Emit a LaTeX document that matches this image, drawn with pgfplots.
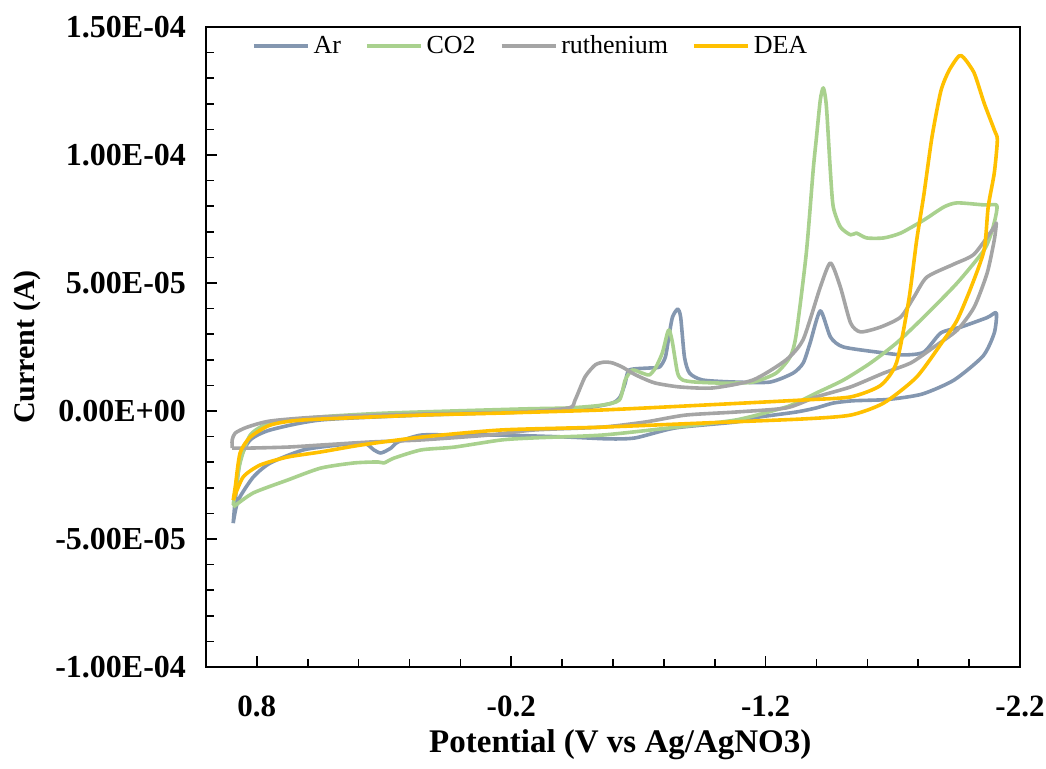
\documentclass[border=0pt]{standalone}
\usepackage{fontspec}
\setmainfont{Liberation Serif}
\usepackage{pgfplots}
\pgfplotsset{compat=1.18}

\definecolor{arblue}{HTML}{8497B0}
\definecolor{co2green}{HTML}{A9D18E}
\definecolor{rugrey}{HTML}{A5A5A5}
\definecolor{deagold}{HTML}{FFC000}

\begin{document}
\begin{tikzpicture}
\begin{axis}[
    scale only axis,
    width=407pt, height=320pt,
    xmin=-2.2, xmax=1.0, x dir=reverse,
    ymin=-1e-4, ymax=1.5e-4,
    xtick={0.8,-0.2,-1.2,-2.2},
    xticklabels={0.8,-0.2,-1.2,-2.2},
    ytick={-1e-4,-5e-5,0,5e-5,1e-4,1.5e-4},
    yticklabels={-1.00E-04,-5.00E-05,0.00E+00,5.00E-05,1.00E-04,1.50E-04},
    scaled ticks=false,
    minor x tick num=4, minor y tick num=4,
    tick align=inside, tick pos=left,
    major tick length=5.5pt, minor tick length=4pt,
    every tick/.style={black, line width=0.8pt},
    axis line style={line width=1pt},
    xticklabel style={font=\fontsize{15.5}{17}\selectfont\bfseries, yshift=-11pt},
    yticklabel style={font=\fontsize{16}{18}\selectfont\bfseries, xshift=-6.5pt},
    xlabel={Potential (V vs Ag/AgNO3)},
    ylabel={Current (A)},
    xlabel style={font=\fontsize{16.5}{18}\selectfont\bfseries, at={(axis description cs:0.509,-0.122)}, anchor=center},
    ylabel style={font=\fontsize{15}{17}\selectfont\bfseries, at={(axis description cs:-0.22,0.5)}, anchor=center},
    legend style={at={(axis description cs:0.4,0.97)}, anchor=center, draw=none, fill=none,
        legend columns=-1, font=\fontsize{13}{15}\selectfont,
        /tikz/every even column/.append style={column sep=10pt}},
    legend image code/.code={\draw[#1, line width=1.8pt] (0pt,0pt) -- (27pt,0pt);},
    every axis plot/.append style={line width=1.8pt, smooth, tension=0.4, line join=round},
]

% Ar
\addplot[arblue] table {
0.893 -4.38e-5
0.885 -3.48e-5
0.866 -1.91e-5
0.826 -1.13e-5
0.747 -0.74e-5
0.549 -0.35e-5
0.154 -0.16e-5
-0.241 -0.04e-5
-0.490 0.12e-5
-0.597 0.31e-5
-0.628 0.55e-5
-0.648 1.09e-5
-0.664 1.60e-5
-0.743 1.68e-5
-0.783 1.72e-5
-0.806 2.11e-5
-0.822 3.05e-5
-0.834 3.67e-5
-0.854 3.98e-5
-0.866 3.67e-5
-0.881 2.11e-5
-0.901 1.48e-5
-0.953 1.21e-5
-1.083 1.13e-5
-1.217 1.13e-5
-1.308 1.48e-5
-1.348 1.88e-5
-1.375 2.66e-5
-1.415 3.91e-5
-1.455 2.89e-5
-1.506 2.50e-5
-1.664 2.27e-5
-1.743 2.19e-5
-1.822 2.30e-5
-1.889 3.05e-5
-1.968 3.28e-5
-2.071 3.65e-5
-2.107 3.83e-5
-2.099 3.05e-5
-2.055 2.15e-5
-1.941 1.21e-5
-1.815 0.66e-5
-1.680 0.45e-5
-1.545 0.40e-5
-1.466 0.31e-5
-1.399 0.12e-5
-1.320 -0.04e-5
-1.150 -0.27e-5
-1.083 -0.43e-5
-0.846 -0.66e-5
-0.688 -1.05e-5
-0.585 -1.09e-5
-0.427 -1.02e-5
-0.162 -0.94e-5
0.024 -0.94e-5
0.154 -0.94e-5
0.245 -1.21e-5
0.273 -1.45e-5
0.312 -1.64e-5
0.340 -1.52e-5
0.379 -1.25e-5
0.482 -1.33e-5
0.617 -1.52e-5
0.747 -2.03e-5
0.814 -2.58e-5
0.874 -3.50e-5
0.893 -4.38e-5
};
\addlegendentry{Ar}

% CO2
\addplot[co2green] table {
0.893 -3.67e-5
0.866 -2.03e-5
0.826 -0.94e-5
0.747 -0.47e-5
0.549 -0.23e-5
0.285 -0.08e-5
-0.241 0.08e-5
-0.427 0.12e-5
-0.557 0.23e-5
-0.625 0.43e-5
-0.648 1.21e-5
-0.676 1.60e-5
-0.715 1.48e-5
-0.743 1.41e-5
-0.767 1.68e-5
-0.794 2.27e-5
-0.814 3.05e-5
-0.822 3.16e-5
-0.834 2.66e-5
-0.854 1.48e-5
-0.874 1.21e-5
-0.925 1.13e-5
-1.032 1.09e-5
-1.150 1.13e-5
-1.241 1.48e-5
-1.296 2.11e-5
-1.320 2.97e-5
-1.360 6.17e-5
-1.387 9.41e-5
-1.399 10.60e-5
-1.415 12.15e-5
-1.427 12.62e-5
-1.439 11.90e-5
-1.455 9.30e-5
-1.466 7.97e-5
-1.494 7.19e-5
-1.534 6.88e-5
-1.557 6.95e-5
-1.597 6.76e-5
-1.664 6.76e-5
-1.731 6.95e-5
-1.822 7.46e-5
-1.901 7.97e-5
-1.953 8.13e-5
-2.059 8.05e-5
-2.107 8.05e-5
-2.107 7.73e-5
-2.091 7.07e-5
-2.059 6.29e-5
-1.953 5.00e-5
-1.822 3.67e-5
-1.715 2.66e-5
-1.613 1.88e-5
-1.506 1.21e-5
-1.399 0.70e-5
-1.320 0.31e-5
-1.269 0.12e-5
-1.083 -0.35e-5
-0.822 -0.66e-5
-0.557 -0.94e-5
-0.292 -1.05e-5
-0.162 -1.13e-5
0.024 -1.41e-5
0.154 -1.52e-5
0.261 -1.84e-5
0.300 -2.03e-5
0.324 -1.99e-5
0.419 -2.03e-5
0.549 -2.23e-5
0.680 -2.70e-5
0.814 -3.20e-5
0.893 -3.75e-5
};
\addlegendentry{CO2}

% ruthenium
\addplot[rugrey] table {
0.897 -1.45e-5
0.897 -1.13e-5
0.885 -0.86e-5
0.838 -0.63e-5
0.747 -0.39e-5
0.549 -0.23e-5
0.154 -0.12e-5
-0.241 -0.04e-5
-0.427 0.12e-5
-0.451 0.43e-5
-0.490 1.33e-5
-0.530 1.80e-5
-0.565 1.91e-5
-0.597 1.88e-5
-0.636 1.72e-5
-0.676 1.48e-5
-0.715 1.29e-5
-0.767 1.09e-5
-0.862 0.94e-5
-0.992 0.90e-5
-1.150 1.21e-5
-1.281 2.00e-5
-1.348 2.80e-5
-1.415 4.84e-5
-1.455 5.78e-5
-1.494 4.84e-5
-1.534 3.44e-5
-1.573 3.09e-5
-1.652 3.28e-5
-1.731 3.67e-5
-1.783 4.45e-5
-1.834 5.23e-5
-1.941 5.74e-5
-2.020 6.13e-5
-2.099 7.19e-5
-2.107 7.34e-5
-2.099 6.68e-5
-2.071 5.39e-5
-2.020 4.06e-5
-1.953 3.16e-5
-1.862 2.50e-5
-1.771 1.88e-5
-1.664 1.48e-5
-1.534 0.94e-5
-1.399 0.55e-5
-1.281 0.12e-5
-1.083 -0.04e-5
-0.885 -0.16e-5
-0.727 -0.43e-5
-0.557 -0.63e-5
-0.292 -0.74e-5
-0.111 -0.94e-5
0.154 -1.13e-5
0.352 -1.21e-5
0.549 -1.33e-5
0.680 -1.41e-5
0.838 -1.45e-5
0.897 -1.45e-5
};
\addlegendentry{ruthenium}

% DEA
\addplot[deagold] table {
0.893 -3.48e-5
0.885 -2.97e-5
0.866 -1.64e-5
0.826 -1.02e-5
0.747 -0.55e-5
0.617 -0.35e-5
0.154 -0.16e-5
-0.162 -0.08e-5
-0.557 0.04e-5
-0.953 0.23e-5
-1.348 0.43e-5
-1.534 0.55e-5
-1.652 1.00e-5
-1.715 1.90e-5
-1.763 4.34e-5
-1.794 6.68e-5
-1.822 8.44e-5
-1.854 10.70e-5
-1.889 12.50e-5
-1.921 13.30e-5
-1.960 13.87e-5
-1.980 13.79e-5
-2.020 13.20e-5
-2.059 12.03e-5
-2.099 10.98e-5
-2.111 10.59e-5
-2.099 9.30e-5
-2.075 7.97e-5
-2.059 6.29e-5
-2.008 4.84e-5
-1.953 3.55e-5
-1.900 2.77e-5
-1.794 1.33e-5
-1.664 0.31e-5
-1.534 -0.16e-5
-1.348 -0.31e-5
-0.953 -0.47e-5
-0.557 -0.63e-5
-0.162 -0.74e-5
0.154 -1.02e-5
0.391 -1.33e-5
0.549 -1.60e-5
0.680 -1.80e-5
0.787 -2.11e-5
0.854 -2.58e-5
0.893 -3.48e-5
};
\addlegendentry{DEA}

\end{axis}
\pgfresetboundingbox
\path[use as bounding box] (-103pt,-50.5pt) rectangle (420pt,333.5pt);
\end{tikzpicture}
\end{document}
